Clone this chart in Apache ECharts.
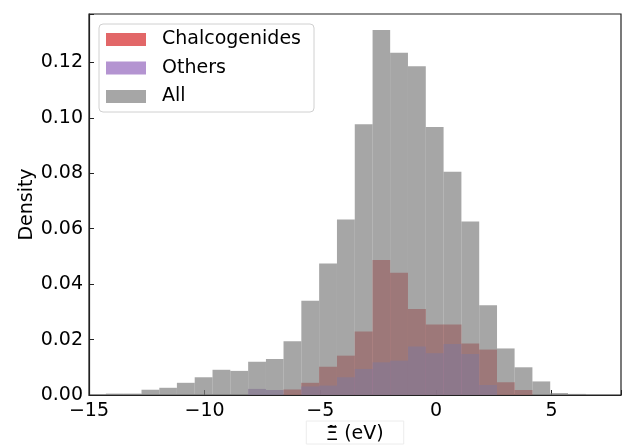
<!DOCTYPE html>
<html>
<head>
<meta charset="utf-8">
<script src="https://cdn.jsdelivr.net/npm/echarts@6/dist/echarts.min.js"></script>
<style>
  html, body { margin: 0; padding: 0; background: #fff; }
  #chart { width: 627px; height: 448px; }
</style>
</head>
<body>
<div id="chart"></div>
<script>
// histogram bin edges (eV)
const binEdges = [
  -14.27, -13.50, -12.73, -11.96, -11.20, -10.43, -9.66, -8.89, -8.12, -7.35,
  -6.59, -5.82, -5.05, -4.28, -3.51, -2.74, -1.98, -1.21, -0.44, 0.33,
  1.10, 1.87, 2.64, 3.40, 4.17, 4.94, 5.71, 6.48
];

// densities per bin
const chalcogenides = [
  0, 0, 0, 0, 0, 0, 0, 0, 0, 0,
  0.0020, 0.0044, 0.0102, 0.0142, 0.0229, 0.0487, 0.0441, 0.0310, 0.0254, 0.0254,
  0.0186, 0.0164, 0.0046, 0.0018, 0, 0, 0
];
const others = [
  0, 0, 0, 0, 0, 0, 0, 0, 0.0022, 0.0018,
  0, 0.0031, 0.0034, 0.0064, 0.0094, 0.0118, 0.0124, 0.0175, 0.0151, 0.0184,
  0.0148, 0.0036, 0, 0, 0, 0, 0
];
const all = [
  0.0005, 0.0005, 0.0019, 0.0026, 0.0044, 0.0064, 0.0091, 0.0087, 0.0120, 0.0130,
  0.0194, 0.0340, 0.0475, 0.0633, 0.0977, 0.1317, 0.1235, 0.1186, 0.0967, 0.0806,
  0.0626, 0.0324, 0.0168, 0.0100, 0.0049, 0.0007, 0.0004
];

const seriesNames = ['Chalcogenides', 'Others', 'All'];
const seriesColors = ['#d62728', '#9467bd', '#808080'];

const FONT = 'DejaVu Sans';

function toBins(values) {
  return values.map((v, i) => [binEdges[i], binEdges[i + 1], v]);
}

function renderBin(params, api) {
  const p0 = api.coord([api.value(0), api.value(2)]);
  const p1 = api.coord([api.value(1), 0]);
  return {
    type: 'rect',
    shape: { x: p0[0], y: p0[1], width: p1[0] - p0[0], height: p1[1] - p0[1] },
    style: { fill: api.visual('color'), opacity: 0.7 }
  };
}

const chart = echarts.init(document.getElementById('chart'));

const option = {
  animation: false,
  backgroundColor: '#fff',
  textStyle: { fontFamily: FONT },
  grid: {
    left: 89, right: 6, top: 14, bottom: 53,
    containLabel: false, outerBoundsMode: 'none',
    show: true, borderColor: '#222', borderWidth: 1.2, backgroundColor: 'transparent'
  },
  legend: {
    orient: 'vertical',
    left: 99, top: 24,
    padding: [6, 13, 6, 7],
    itemWidth: 40, itemHeight: 13, itemGap: 9.5,
    borderColor: '#d0d0d0', borderWidth: 1, borderRadius: 4,
    backgroundColor: '#fff',
    textStyle: { fontFamily: FONT, fontSize: 19, color: '#000', padding: [0, 0, 0, 11] },
    data: seriesNames.map((n, i) => ({
      name: n, icon: 'rect',
      itemStyle: { color: seriesColors[i], opacity: 0.7 }
    }))
  },
  xAxis: {
    type: 'value',
    min: -15, max: 8, interval: 5,
    name: '{x|Ξ̃} (eV)',
    nameLocation: 'middle',
    nameGap: 26,
    nameMoveOverlap: false,
    nameTextStyle: {
      fontFamily: FONT, fontSize: 19, color: '#000',
      borderColor: '#ececec', borderWidth: 1, padding: [4, 20, 0, 20],
      rich: { x: { fontFamily: 'Noto Sans', fontSize: 19, color: '#000' } }
    },
    axisLine: { show: true, onZero: false, lineStyle: { color: '#222', width: 1.2 } },
    axisTick: { show: true, inside: true, length: 5, lineStyle: { color: '#222' } },
    axisLabel: {
      fontFamily: FONT, fontSize: 19, color: '#000', margin: 7,
      formatter: v => (v % 5 === 0 ? String(v).replace('-', '\u2212') : '')
    },
    splitLine: { show: false }
  },
  yAxis: {
    type: 'value',
    min: 0, max: 0.1375, interval: 0.02,
    name: 'Density',
    nameLocation: 'middle',
    nameGap: 52,
    nameMoveOverlap: false,
    nameTextStyle: { fontFamily: FONT, fontSize: 19, color: '#000' },
    axisLine: { show: true, onZero: false, lineStyle: { color: '#222', width: 1.2 } },
    axisTick: { show: true, inside: true, length: 5, lineStyle: { color: '#222' } },
    axisLabel: {
      fontFamily: FONT, fontSize: 19, color: '#000', margin: 6,
      formatter: v => (Math.abs(v * 50 - Math.round(v * 50)) < 1e-6 ? v.toFixed(2) : '')
    },
    splitLine: { show: false }
  },
  series: [chalcogenides, others, all].map((vals, i) => ({
    name: seriesNames[i],
    type: 'custom',
    renderItem: renderBin,
    itemStyle: { color: seriesColors[i], opacity: 0.7 },
    encode: { x: [0, 1], y: 2 },
    data: toBins(vals)
  }))
};

chart.setOption(option);
</script>
</body>
</html>
